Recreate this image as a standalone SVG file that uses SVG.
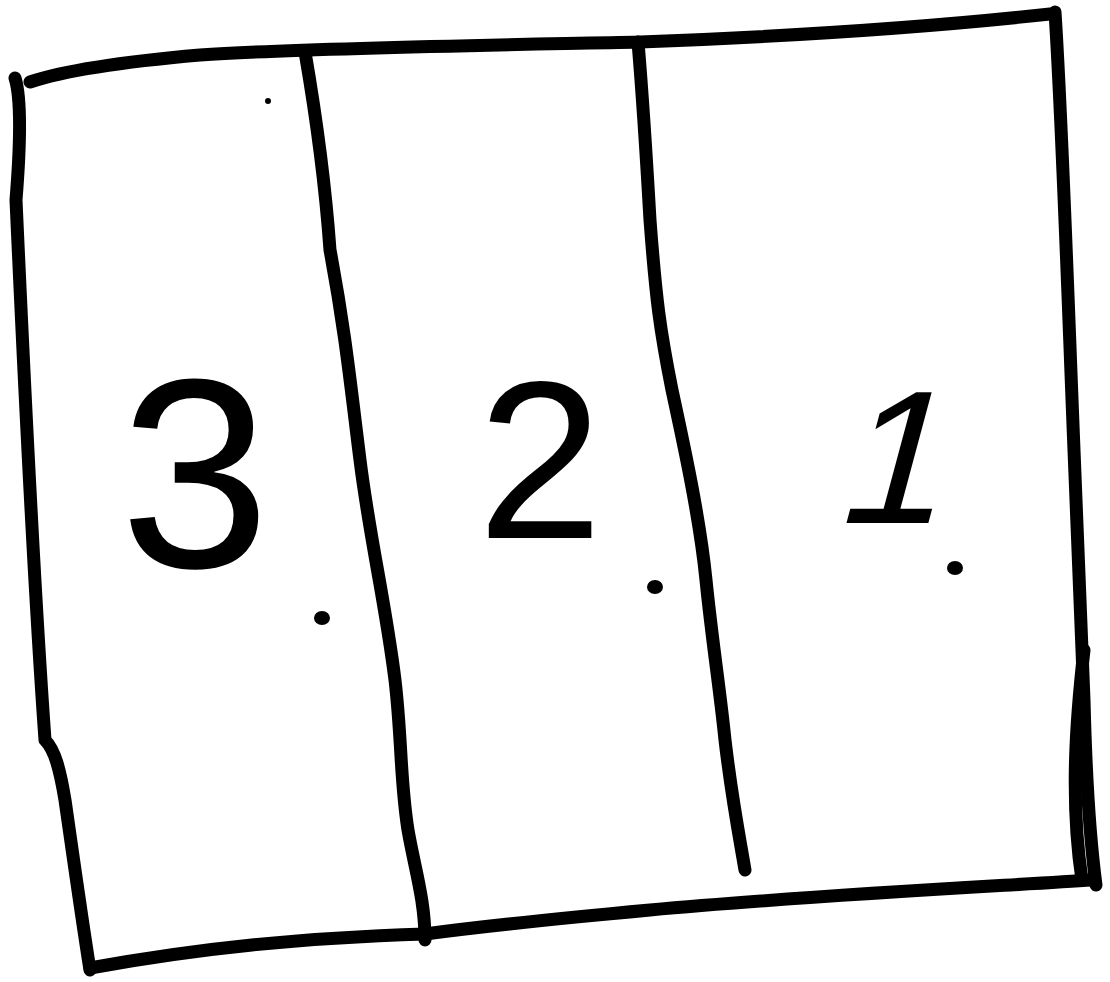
<svg xmlns="http://www.w3.org/2000/svg" width="1110" height="982" viewBox="0 0 1110 982">
<style>
.ln{fill:none;stroke:#000;stroke-width:13;stroke-linecap:round;stroke-linejoin:round}
.num{font-family:"Liberation Sans",Arial,sans-serif;fill:#000;text-anchor:middle}
</style>
<rect width="1110" height="982" fill="#fff"/>
<g id="connectors">
<path class="ln" d="M30,82 C60,72 120,62 200,55 C300,48 500,45 640,42 C800,36 950,25 1050,14"/>
<path class="ln" d="M1055,12 C1062,120 1068,300 1074,450 C1078,560 1082,650 1084,700 C1086,780 1090,840 1096,885"/>
<path class="ln" d="M1092,880 C1000,886 800,896 650,910 C520,922 440,932 425,934 C300,938 200,948 90,968"/>
<path class="ln" d="M15,78 C22,100 20,150 16,200 C25,400 35,600 45,740 C55,750 60,770 65,800 C75,870 82,920 90,970"/>
<path class="ln" d="M1084,650 C1076,720 1070,800 1082,880"/>
<path class="ln" d="M305,52 C315,110 325,180 330,250 C345,330 350,380 360,460 C370,540 385,600 395,680 C402,740 400,780 408,830 C415,870 425,900 425,940"/>
<path class="ln" d="M638,42 C642,90 646,150 650,220 C656,300 660,330 672,390 C685,450 700,520 706,580 C712,640 720,690 725,740 C732,800 740,840 745,870"/>
</g>
<g id="panel3">
<text class="num" x="195" y="567" font-size="270">3</text>
<ellipse cx="322" cy="618" rx="8" ry="7"/>
<circle cx="268" cy="101" r="3"/>
</g>
<g id="panel2">
<text class="num" x="540" y="538" font-size="225">2</text>
<ellipse cx="655" cy="587" rx="8" ry="7"/>
</g>
<g id="panel1">
<text class="num" x="885" y="523" font-size="190" transform="skewX(-15) translate(140,0)">1</text>
<ellipse cx="955" cy="568" rx="8" ry="7"/>
</g>
</svg>
